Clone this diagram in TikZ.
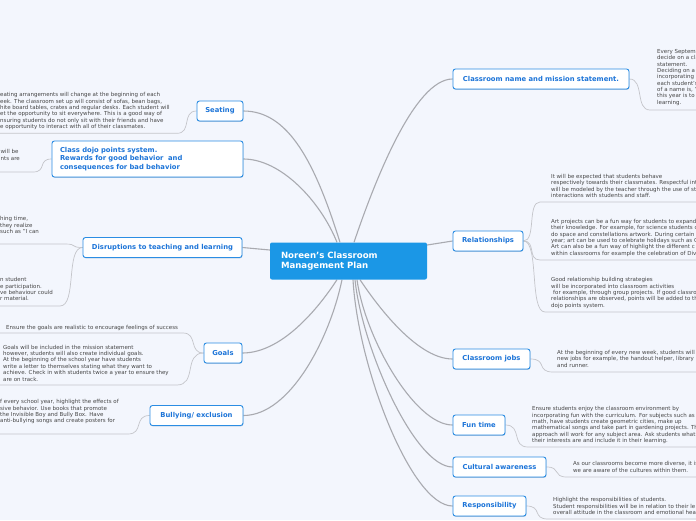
\documentclass[tikz,border=0pt]{standalone}
\usepackage{fontspec}
\setmainfont{DejaVu Sans}
\usetikzlibrary{shadows,calc}
\definecolor{bgc}{HTML}{F3F6FD}
\definecolor{boxblue}{HTML}{2B8DE3}
\definecolor{txtblue}{HTML}{1C74D8}
\definecolor{cenblue}{HTML}{1B97E6}
\definecolor{notegray}{HTML}{464646}
\definecolor{linegray}{HTML}{A9AAB0}
\definecolor{sublinegray}{HTML}{C4C5CA}
\pgfdeclarelayer{base}
\pgfdeclarelayer{bg}
\pgfsetlayers{base,bg,main}
\tikzset{
 branch/.style={draw=boxblue, line width=0.9pt, fill=white, rounded corners=2.5pt, text=txtblue,
   font=\fontsize{6.8}{8.7}\selectfont\bfseries, minimum height=20pt, inner sep=0pt,
   drop shadow={shadow xshift=0.4pt, shadow yshift=-0.8pt, fill=boxblue!70!black, opacity=0.35}},
 central/.style={fill=cenblue, rounded corners=2pt, text=white, font=\fontsize{8.6}{10.5}\selectfont\bfseries,
   minimum width=157pt, minimum height=37pt, text width=135pt, align=left, inner xsep=11pt},
 note/.style={anchor=north west, inner sep=0pt, align=left, text=notegray, font=\fontsize{5.5}{6.35}\selectfont},
 mainlink/.style={draw=linegray, line width=1.1pt},
 sublink/.style={draw=sublinegray, line width=0.7pt},
}
\begin{document}
\begin{tikzpicture}[x=1pt,y=-1pt]
\begin{pgfonlayer}{base}
\fill[bgc] (0,0) rectangle (696,520);
\end{pgfonlayer}
\useasboundingbox (0,0) rectangle (696,520);
\clip (0,0) rectangle (696,520);

% central and branches
\node[central] (cen) at (348.5,261) {Noreen's Classroom\\Management Plan};
\node[branch, minimum width=46pt] (seat) at (220,111) {Seating};
\node[branch, minimum width=191pt, minimum height=36pt, align=left, text width=175pt, inner xsep=8pt] (dojo) at (147.5,159) {Class dojo points system.\\Rewards for good behavior\ \ and\\consequences for bad behavior};
\node[branch, minimum width=159pt] (disr) at (162.5,247.5) {Disruptions to teaching and learning};
\node[branch, minimum width=38pt] (goals) at (223,353) {Goals};
\node[branch, minimum width=93pt] (bully) at (196.5,415.5) {Bullying/ exclusion};
\node[branch, minimum width=176pt] (cname) at (541,79) {Classroom name and mission statement.};
\node[branch, minimum width=70pt] (rel) at (488,241) {Relationships};
\node[branch, minimum width=77pt] (jobs) at (491.5,359) {Classroom jobs};
\node[branch, minimum width=52pt] (fun) at (479,425) {Fun time};
\node[branch, minimum width=93pt] (cult) at (499.5,467) {Cultural awareness};
\node[branch, minimum width=73pt] (resp) at (489.5,506) {Responsibility};

% notes
\node[note] (seatT) at (0,92.4) {eating arrangements will change at the beginning of each\\eek. The classroom set up will consist of sofas, bean bags,\\hite board tables, crates and regular desks. Each student will\\et the opportunity to sit everywhere. This is a good way of\\nsuring students do not only sit with their friends and have\\e opportunity to interact with all of their classmates.};
\node[note] (dojoT) at (0.5,149.4) {will be\\nts are};
\node[note] (disrA) at (0,216.4) {hing time,\\they realize\\such as "I can};
\node[note] (disrB) at (0,277.4) {n student\\e participation.\\ve behaviour could\\r material.};
\node[note] (goalsA) at (6,324.9) {Ensure the goals are realistic to encourage feelings of success};
\node[note] (goalsB) at (3,344.9) {Goals will be included in the mission statement\\however, students will also create individual goals.\\At the beginning of the school year have students\\write a letter to themselves stating what they want to\\achieve. Check in with students twice a year to ensure they\\are on track.};
\node[note] (bullyT) at (0,399.4) {f every school year, highlight the effects of\\sive behavior. Use books that promote\\the Invisible Boy and Bully Box. Have\\anti-bullying songs and create posters for};
\node[note] (cnameT) at (657,49.1) {Every Septem\\decide on a cla\\statement.\\Deciding on a\\incorporating\\each student's\\of a name is, '\\this year is to\\learning.};
\node[note] (relA) at (551,174.1) {It will be expected that students behave\\respectively towards their classmates. Respectful int\\will be modeled by the teacher through the use of st\\interactions with students and staff.};
\node[note] (relB) at (551,219.1) {Art projects can be a fun way for students to expand\\their knowledge. For example, for science students c\\do space and constellations artwork. During certain t\\year; art can be used to celebrate holidays such as C\\Art can also be a fun way of highlight the different c\\within classrooms for example the celebration of Div};
\node[note] (relC) at (551,277.4) {Good relationship building strategies\\will be incorporated into classroom activities\\\hspace*{2pt}for example, through group projects. If good classro\\relationships are observed, points will be added to th\\dojo points system.};
\node[note] (jobsT) at (557,350.1) {At the beginning of every new week, students will\\new jobs for example, the handout helper, library\\and runner.};
\node[note] (funT) at (532,406.4) {Ensure students enjoy the classroom environment by\\incorporating fun with the curriculum. For subjects such as\\math, have students create geometric cities, make up\\mathematical songs and take part in gardening projects. Th\\approach will work for any subject area. Ask students what\\their interests are and include it in their learning.};
\node[note] (cultT) at (573,461.4) {As our classrooms become more diverse, it is\\we are aware of the cultures within them.};
\node[note] (respT) at (553,497.4) {Highlight the responsibilities of students.\\Student responsibilities will be in relation to their le\\overall attitude in the classroom and emotional heal};

% underline coordinates
\coordinate (seatU) at (177,133.3); \coordinate (seatL) at (0,133.3);
\coordinate (dojoU) at (33,172);    \coordinate (dojoL) at (0,172);
\coordinate (disrAU) at (65,244);   \coordinate (disrAL) at (0,244);
\coordinate (disrBU) at (60,306);   \coordinate (disrBL) at (0,306);
\coordinate (goalsAU) at (183,333); \coordinate (goalsAL) at (0,333);
\coordinate (goalsBU) at (177,385); \coordinate (goalsBL) at (0,385);
\coordinate (bullyU) at (128,434);  \coordinate (bullyL) at (0,434);
\coordinate (cnameU) at (650,110);  \coordinate (cnameR) at (696,110);
\coordinate (relAU) at (540,202);   \coordinate (relAR) at (696,202);
\coordinate (relBU) at (540,260);   \coordinate (relBR) at (696,260);
\coordinate (relCU) at (545,312);   \coordinate (relCR) at (696,312);
\coordinate (jobsU) at (553,372);   \coordinate (jobsR) at (696,372);
\coordinate (funU) at (528,447);    \coordinate (funR) at (696,447);
\coordinate (cultU) at (567,477);   \coordinate (cultR) at (696,477);
\coordinate (respU) at (548,519);   \coordinate (respR) at (696,519);

\begin{pgfonlayer}{bg}
% main links
\draw[mainlink] (seat.east) .. controls +(45,0) and +(-25,-80) .. ([xshift=-8.5pt]cen.north);
\draw[mainlink] (dojo.east) .. controls +(37,0) and +(-17,-42) .. ([xshift=-11.5pt]cen.north);
\draw[mainlink] (cname.west) .. controls +(-38,0) and +(21,-62) .. ([xshift=5.5pt]cen.north);
\draw[mainlink] (disr.east) -- ([yshift=11pt]cen.west);
\draw[mainlink] (rel.west) -- ([yshift=16pt]cen.east);
\draw[mainlink] (goals.east) .. controls +(42,0) and +(-15,23) .. ([xshift=-11.5pt]cen.south);
\draw[mainlink] (bully.east) .. controls +(47,0) and +(-12,58) .. ([xshift=-6.5pt]cen.south);
\draw[mainlink] (jobs.west) .. controls +(-38,0) and +(12,18) .. ([xshift=11.5pt]cen.south);
\draw[mainlink] (fun.west) .. controls +(-38,0) and +(8,58) .. ([xshift=8.5pt]cen.south);
\draw[mainlink] (cult.west) .. controls +(-38,0) and +(7,68) .. ([xshift=6.5pt]cen.south);
\draw[mainlink] (resp.west) .. controls +(-41,0) and +(5,88) .. ([xshift=4.5pt]cen.south);
% sub links
\draw[sublink] (seat.west) .. controls +(-15,0) and +(15,0) .. (seatU) -- (seatL);
\draw[sublink] (dojo.west) .. controls +(-14,0) and +(14,0) .. (dojoU) -- (dojoL);
\draw[sublink] (disr.west) .. controls +(-13,0) and +(13,0) .. (disrAU) -- (disrAL);
\draw[sublink] (disr.west) .. controls +(-17,0) and +(17,0) .. (disrBU) -- (disrBL);
\draw[sublink] (goals.west) .. controls +(-15,0) and +(15,0) .. (goalsAU) -- (goalsAL);
\draw[sublink] (goals.west) .. controls +(-20,0) and +(20,0) .. (goalsBU) -- (goalsBL);
\draw[sublink] (bully.west) .. controls +(-16,0) and +(16,0) .. (bullyU) -- (bullyL);
\draw[sublink] (cname.east) .. controls +(15,0) and +(-15,0) .. (cnameU) -- (cnameR);
\draw[sublink] (rel.east) .. controls +(13,0) and +(-13,0) .. (relAU) -- (relAR);
\draw[sublink] (rel.east) .. controls +(13,0) and +(-13,0) .. (relBU) -- (relBR);
\draw[sublink] (rel.east) .. controls +(16,0) and +(-16,0) .. (relCU) -- (relCR);
\draw[sublink] (jobs.east) .. controls +(17,0) and +(-17,0) .. (jobsU) -- (jobsR);
\draw[sublink] (fun.east) .. controls +(17,0) and +(-17,0) .. (funU) -- (funR);
\draw[sublink] (cult.east) .. controls +(15,0) and +(-15,0) .. (cultU) -- (cultR);
\draw[sublink] (resp.east) .. controls +(16,0) and +(-16,0) .. (respU) -- (respR);
\end{pgfonlayer}
\end{tikzpicture}
\end{document}
